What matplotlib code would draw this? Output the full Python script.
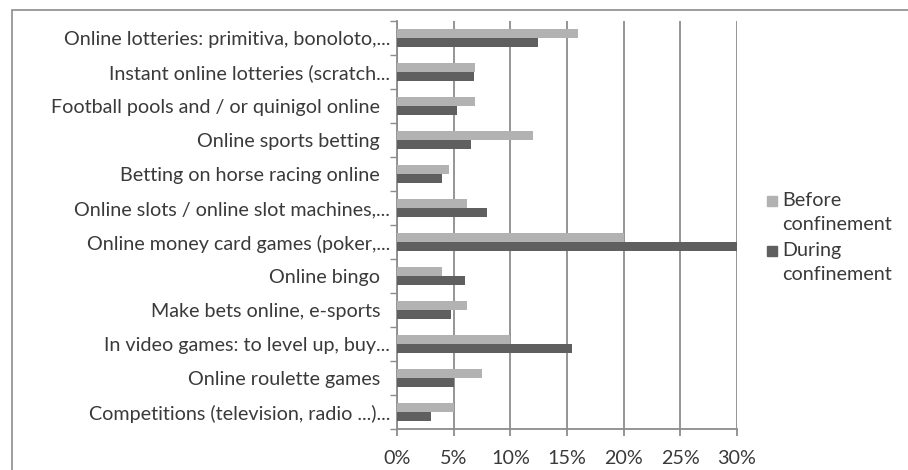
import matplotlib.pyplot as plt
import numpy as np
from matplotlib.patches import Rectangle
from matplotlib.ticker import MultipleLocator, PercentFormatter

plt.rcParams['font.family'] = ['Lato', 'DejaVu Sans']

labels = [
    'Online lotteries: primitiva, bonoloto,...',
    'Instant online lotteries (scratch...',
    'Football pools and / or quinigol online  ',
    'Online sports betting  ',
    'Betting on horse racing online  ',
    'Online slots / online slot machines,...',
    'Online money card games (poker,...',
    'Online bingo  ',
    'Make bets online, e-sports  ',
    'In video games: to level up, buy...',
    'Online roulette games  ',
    'Competitions (television, radio ...)...',
]
series = ['Before\nconfinement', 'During\nconfinement']
before = [16.0, 6.9, 6.9, 12.0, 4.6, 6.2, 20.0, 4.0, 6.2, 10.0, 7.5, 5.0]
during = [12.4, 6.8, 5.3, 6.5, 4.0, 7.9, 30.0, 6.0, 4.8, 15.4, 5.0, 3.0]

c_before = '#b2b2b2'
c_during = '#5f5f5f'
grid_c = '#8c8c8c'
txt_c = '#3a3a3a'
fs = 14.2

fig = plt.figure(figsize=(9.08, 4.70), dpi=100)
fig.patches.append(Rectangle((12/908, -0.1), 1.2, 1 - 10/470 + 0.1, transform=fig.transFigure,
                             fill=False, edgecolor='#8c8c8c', linewidth=1.2))
ax = fig.add_axes([397/908, 41/470, 340/908, 408/470])

y = np.arange(len(labels))
h = 0.275
ax.barh(y - h/2, before, height=h, color=c_before, zorder=3)
ax.barh(y + h/2, during, height=h, color=c_during, zorder=3)

ax.set_xlim(0, 30)
ax.set_ylim(len(labels) - 0.5, -0.5)
ax.xaxis.set_major_locator(MultipleLocator(5))
ax.xaxis.set_major_formatter(PercentFormatter(decimals=0))
ax.grid(axis='x', color=grid_c, linewidth=1.3, zorder=0)

ax.set_yticks(y)
ax.set_yticklabels(labels)
ax.set_yticks(np.arange(len(labels) + 1) - 0.5, minor=True)
ax.tick_params(axis='y', which='major', length=0, pad=5, labelsize=fs, labelcolor=txt_c)
ax.tick_params(axis='y', which='minor', length=5, color=grid_c, width=1)
ax.tick_params(axis='x', length=5, color=grid_c, width=1.3, labelsize=fs, labelcolor=txt_c, pad=10)

for s in ['top', 'right']:
    ax.spines[s].set_visible(False)
for s in ['left', 'bottom']:
    ax.spines[s].set_color(grid_c)
    ax.spines[s].set_linewidth(1.3)

# legend, square next to the first line of each entry
for i, (name, col) in enumerate(zip(series, [c_before, c_during])):
    ty = (470 - 192 - i * 50) / 470
    fig.patches.append(Rectangle((767/908, ty - 14/470), 10/908, 10/470,
                                 transform=fig.transFigure, color=col))
    fig.text(782/908, ty, name, fontsize=fs, color=txt_c, va='top', ha='left',
             linespacing=1.5)

fig.savefig('out.png', dpi=100)
